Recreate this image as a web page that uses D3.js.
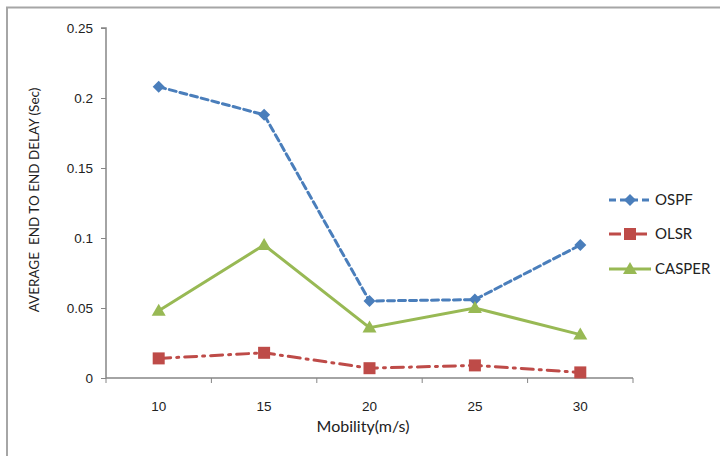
<!DOCTYPE html>
<html>
<head>
<meta charset="utf-8">
<script src="https://cdn.jsdelivr.net/npm/d3@7"></script>
<style>
  html, body { margin: 0; padding: 0; background: #fff; }
  svg { display: block; font-family: Lato, "Open Sans", sans-serif; }
</style>
</head>
<body>
<svg id="chart" width="720" height="456"></svg>
<script>
// Mobility (m/s) categories
const categories = ["10", "15", "20", "25", "30"];
// Average end-to-end delay (s) per protocol
const ospf   = [0.208, 0.188, 0.055, 0.056, 0.095];
const olsr   = [0.014, 0.018, 0.007, 0.009, 0.004];
const casper = [0.048, 0.095, 0.036, 0.050, 0.031];
const yTicks = [0, 0.05, 0.1, 0.15, 0.2, 0.25];
const yTickLabels = ["0", "0.05", "0.1", "0.15", "0.2", "0.25"];

const series = [
  { name: "OSPF",   values: ospf,   color: "#4a7ebb", dash: "7,4",          shape: "diamond" },
  { name: "OLSR",   values: olsr,   color: "#be4b48", dash: "12,6,2,6",     shape: "square" },
  { name: "CASPER", values: casper, color: "#98b954", dash: null,           shape: "triangle" }
];

const svg = d3.select("#chart");
const plot = { left: 106, right: 633, top: 28, bottom: 378 };

// frame around the chart area
svg.append("line").attr("x1", 6).attr("x2", 720).attr("y1", 7.5).attr("y2", 7.5)
  .attr("stroke", "#a6a6a6").attr("stroke-width", 2);
svg.append("line").attr("x1", 7).attr("x2", 7).attr("y1", 7).attr("y2", 456)
  .attr("stroke", "#a6a6a6").attr("stroke-width", 2);

const x = d3.scaleBand().domain(categories).range([plot.left, plot.right]);
const y = d3.scaleLinear().domain([0, 0.25]).range([plot.bottom, plot.top]);
const cx = c => x(c) + x.bandwidth() / 2;

// y axis
const yAxis = svg.append("g").attr("transform", `translate(${plot.left},0)`)
  .call(d3.axisLeft(y).tickValues(yTicks).tickFormat((d, i) => yTickLabels[i]).tickSize(5).tickPadding(8));
yAxis.select(".domain").attr("stroke", "#868686").attr("stroke-width", 1.5).attr("d", `M-5,${plot.top}H0V${plot.bottom}`);
yAxis.selectAll(".tick line").attr("stroke", "#868686");
yAxis.selectAll(".tick text").attr("font-size", 13.5).attr("fill", "#222");

// x axis with ticks at band edges
const xAxis = svg.append("g").attr("transform", `translate(0,${plot.bottom})`)
  .call(d3.axisBottom(x).tickSize(0).tickPadding(23));
xAxis.select(".domain").attr("stroke", "#868686").attr("stroke-width", 1.5).attr("d", `M${plot.left},0H${plot.right}`);
xAxis.selectAll(".tick text").attr("font-size", 13.5).attr("fill", "#222");
const edges = categories.map(c => x(c)).concat([x(categories[categories.length - 1]) + x.bandwidth()]);
xAxis.selectAll(".edge").data(edges).enter().append("line")
  .attr("x1", d => d).attr("x2", d => d).attr("y1", 0).attr("y2", 5)
  .attr("stroke", "#868686");

// axis titles
svg.append("text").attr("x", 363).attr("y", 432).attr("text-anchor", "middle")
  .attr("font-size", 16).attr("fill", "#222").text("Mobility(m/s)");
svg.append("text").attr("transform", "translate(39,200) rotate(-90)").attr("text-anchor", "middle")
  .attr("font-size", 13.5).attr("fill", "#222").attr("xml:space", "preserve")
  .text("AVERAGE  END TO END DELAY (Sec)");

function marker(g, shape, color, px, py) {
  if (shape === "diamond") {
    g.append("path").attr("d", `M${px},${py - 6}L${px + 6},${py}L${px},${py + 6}L${px - 6},${py}Z`).attr("fill", color);
  } else if (shape === "square") {
    g.append("rect").attr("x", px - 6).attr("y", py - 6).attr("width", 12).attr("height", 12).attr("fill", color);
  } else {
    g.append("path").attr("d", `M${px},${py - 7}L${px + 7},${py + 5}L${px - 7},${py + 5}Z`).attr("fill", color);
  }
}

const line = d3.line().x((d, i) => cx(categories[i])).y(d => y(d));

series.forEach(s => {
  const g = svg.append("g");
  g.append("path").datum(s.values).attr("d", line).attr("fill", "none")
    .attr("stroke", s.color).attr("stroke-width", 3)
    .attr("stroke-dasharray", s.dash).attr("stroke-linecap", s.dash ? "round" : "butt");
  s.values.forEach((v, i) => marker(g, s.shape, s.color, cx(categories[i]), y(v)));
});

// legend
const legendY = [200, 234, 269];
series.forEach((s, i) => {
  const g = svg.append("g");
  const ly = legendY[i];
  g.append("line").attr("x1", 609).attr("x2", 651).attr("y1", ly).attr("y2", ly)
    .attr("stroke", s.color).attr("stroke-width", 3).attr("stroke-dasharray", s.dash);
  marker(g, s.shape, s.color, 630, ly);
  g.append("text").attr("x", 655).attr("y", ly + 5).attr("font-size", 15).attr("fill", "#222").text(s.name);
});
</script>
</body>
</html>
